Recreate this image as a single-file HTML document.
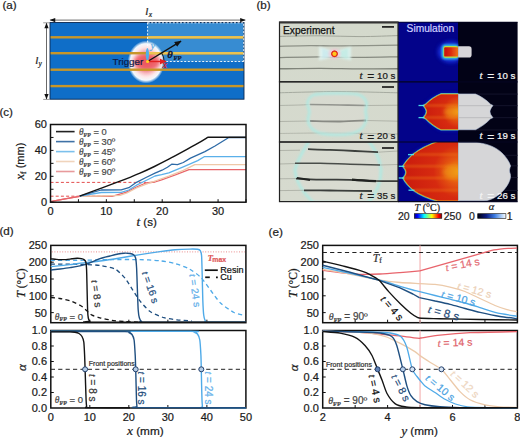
<!DOCTYPE html>
<html><head><meta charset="utf-8"><title>Figure</title>
<style>html,body{margin:0;padding:0;background:#fff;width:520px;height:438px;overflow:hidden}
svg{display:block}</style></head>
<body>
<svg width="520" height="438" viewBox="0 0 520 438">
<defs>
<radialGradient id="glow" cx="0.5" cy="0.5" r="0.5">
<stop offset="0" stop-color="#f07880"/>
<stop offset="0.45" stop-color="#f6b0b8"/>
<stop offset="0.7" stop-color="#fde8ea"/>
<stop offset="0.85" stop-color="#ffffff" stop-opacity="0.95"/>
<stop offset="1" stop-color="#ffffff" stop-opacity="0"/>
</radialGradient>
<linearGradient id="jet" x1="0" x2="1" y1="0" y2="0">
<stop offset="0" stop-color="#00008f"/>
<stop offset="0.12" stop-color="#0000ff"/>
<stop offset="0.36" stop-color="#00ffff"/>
<stop offset="0.5" stop-color="#80ff80"/>
<stop offset="0.64" stop-color="#ffff00"/>
<stop offset="0.88" stop-color="#ff0000"/>
<stop offset="1" stop-color="#900000"/>
</linearGradient>
<linearGradient id="acm" x1="0" x2="1" y1="0" y2="0">
<stop offset="0" stop-color="#000010"/>
<stop offset="0.3" stop-color="#0a1a80"/>
<stop offset="0.6" stop-color="#3a7ae0"/>
<stop offset="0.85" stop-color="#b0d0f8"/>
<stop offset="1" stop-color="#ffffff"/>
</linearGradient>
<filter id="b05" filterUnits="userSpaceOnUse" x="0" y="0" width="520" height="438"><feGaussianBlur stdDeviation="0.5"/></filter>
<filter id="b1" filterUnits="userSpaceOnUse" x="0" y="0" width="520" height="438"><feGaussianBlur stdDeviation="1"/></filter>
<filter id="b2" filterUnits="userSpaceOnUse" x="0" y="0" width="520" height="438"><feGaussianBlur stdDeviation="2"/></filter>
<marker id="ahk" viewBox="0 0 10 10" refX="9" refY="5" markerWidth="5" markerHeight="5" orient="auto-start-reverse"><path d="M0,1 L10,5 L0,9 z" fill="#111"/></marker>
<marker id="ahd" viewBox="0 0 10 10" refX="9" refY="5" markerWidth="8" markerHeight="7" orient="auto-start-reverse"><path d="M0,1.2 L10,5 L0,8.8 z" fill="#111"/></marker>
<marker id="ahr" viewBox="0 0 10 10" refX="9" refY="5" markerWidth="5" markerHeight="5" orient="auto"><path d="M0,1 L10,5 L0,9 z" fill="#e02020"/></marker>
</defs>
<rect width="520" height="438" fill="#fff"/>
<text x="2.4" y="8.9" font-size="11.6" text-anchor="start" fill="#222" font-family='"Liberation Sans", sans-serif'  stroke="#222" stroke-width="0.22">(a)</text>
<rect x="50.0" y="22.5" width="194.0" height="76.7" fill="#0f6ec8"/>
<rect x="147.6" y="22.5" width="96.4" height="39.0" fill="#378cd2"/>
<ellipse cx="146.1" cy="62.0" rx="18.5" ry="21.5" fill="url(#glow)"/>
<ellipse cx="147.1" cy="62.0" rx="13.5" ry="8.5" fill="#ec5058" opacity="0.8" filter="url(#b2)"/>
<rect x="50.0" y="36.099999999999994" width="194.0" height="2.4" fill="#c89628"/>
<rect x="147.6" y="36.099999999999994" width="96.4" height="2.4" fill="#ebc350"/>
<rect x="50.0" y="52.0" width="194.0" height="2.4" fill="#c89628"/>
<rect x="147.6" y="52.0" width="96.4" height="2.4" fill="#ebc350"/>
<rect x="50.0" y="68.5" width="194.0" height="2.4" fill="#c89628"/>
<rect x="50.0" y="84.89999999999999" width="194.0" height="2.4" fill="#c89628"/>
<rect x="50.0" y="22.5" width="194.0" height="76.7" fill="none" stroke="#0a2850" stroke-width="0.9"/>
<path d="M147.6,22.5 V61.5 H244.0" fill="none" stroke="#fff" stroke-width="0.9" stroke-dasharray="2,1.6"/>
<path d="M147.6,22.8 H243.7 V61.5" fill="none" stroke="#fff" stroke-width="0.9" stroke-dasharray="2,1.6"/>
<text x="112.6" y="65" font-size="9.8" text-anchor="start" fill="#0b1a48" font-family='"Liberation Sans", sans-serif'  stroke="#0b1a48" stroke-width="0.22">Trigger</text>
<ellipse cx="147.4" cy="54.3" rx="1.6" ry="6.2" fill="#4eb0ea"/>
<text x="150.6" y="48.6" font-size="10.5" text-anchor="start" fill="#5aa8e0" font-family='"Liberation Serif", serif' font-style="italic"  stroke="#5aa8e0" stroke-width="0.22">y</text>
<path d="M164.1,61.5 A16.5,16.5 0 0 0 161.59,52.76" fill="none" stroke="#111" stroke-width="0.9"/>
<line x1="147.6" y1="61.5" x2="181" y2="41.2" stroke="#111" stroke-width="1.4" marker-end="url(#ahk)"/>
<line x1="147.6" y1="61.5" x2="166" y2="61.5" stroke="#e02020" stroke-width="1.4" marker-end="url(#ahr)"/>
<text x="162.6" y="67.6" font-size="10.5" text-anchor="start" fill="#e02020" font-family='"Liberation Serif", serif' font-style="italic"  stroke="#e02020" stroke-width="0.22">x</text>
<circle cx="147.6" cy="61.5" r="1.6" fill="#ffd21e"/>
<text x="167.3" y="58.2" font-size="10.5" text-anchor="start" fill="#0c1838" font-family='"Liberation Serif", serif' font-style="italic" font-weight="bold" stroke="#0c1838" stroke-width="0.3">&#952;</text>
<text x="173.4" y="60" font-size="6.8" text-anchor="start" fill="#0c1838" font-family='"Liberation Serif", serif' font-weight="bold" stroke="#0c1838" stroke-width="0.2">FP</text>
<line x1="50.2" y1="20.1" x2="245.2" y2="20.1" stroke="#444" stroke-width="0.8" marker-start="url(#ahd)" marker-end="url(#ahd)"/>
<text x="145.2" y="14.6" font-size="11" text-anchor="start" fill="#222" font-family='"Liberation Serif", serif' font-style="italic"  stroke="#222" stroke-width="0.22">l</text>
<text x="148.8" y="17.2" font-size="7.5" text-anchor="start" fill="#222" font-family='"Liberation Serif", serif' font-style="italic"  stroke="#222" stroke-width="0.22">x</text>
<line x1="46.5" y1="23.2" x2="46.5" y2="99" stroke="#444" stroke-width="0.8" marker-start="url(#ahd)" marker-end="url(#ahd)"/>
<line x1="43.2" y1="22.8" x2="49.5" y2="22.8" stroke="#555" stroke-width="0.6"/>
<line x1="43.2" y1="99.4" x2="49.5" y2="99.4" stroke="#555" stroke-width="0.6"/>
<text x="35.2" y="63.6" font-size="11" text-anchor="start" fill="#222" font-family='"Liberation Serif", serif' font-style="italic"  stroke="#222" stroke-width="0.22">l</text>
<text x="38.6" y="66.2" font-size="7.5" text-anchor="start" fill="#222" font-family='"Liberation Serif", serif' font-style="italic"  stroke="#222" stroke-width="0.22">y</text>
<text x="256.4" y="8.6" font-size="11.6" text-anchor="start" fill="#222" font-family='"Liberation Sans", sans-serif'  stroke="#222" stroke-width="0.22">(b)</text>
<defs>
<linearGradient id="pbg" x1="0" x2="0" y1="0" y2="1">
<stop offset="0" stop-color="#d4d9cc"/><stop offset="1" stop-color="#d6dacf"/></linearGradient>
<radialGradient id="hot1" cx="0.5" cy="0.5" r="0.5">
<stop offset="0" stop-color="#ffd21e"/><stop offset="0.5" stop-color="#ff9a10"/>
<stop offset="0.75" stop-color="#e02018"/><stop offset="1" stop-color="#e02018" stop-opacity="0"/></radialGradient>
<radialGradient id="tcore" cx="1" cy="0.5" r="0.9">
<stop offset="0" stop-color="#f09a18"/><stop offset="0.22" stop-color="#e65a12"/>
<stop offset="0.5" stop-color="#d62a10"/><stop offset="1" stop-color="#cc1e0e"/></radialGradient>
<clipPath id="rowclip0"><rect x="279.5" y="22.0" width="238.10000000000002" height="59.8"/></clipPath>
<clipPath id="tclip0"><rect x="398.0" y="22.0" width="60.5" height="59.8"/></clipPath>
<clipPath id="rowclip1"><rect x="279.5" y="81.8" width="238.10000000000002" height="60.2"/></clipPath>
<clipPath id="tclip1"><rect x="398.0" y="81.8" width="60.5" height="60.2"/></clipPath>
<clipPath id="rowclip2"><rect x="279.5" y="142.0" width="238.10000000000002" height="59.599999999999994"/></clipPath>
<clipPath id="tclip2"><rect x="398.0" y="142.0" width="60.5" height="59.599999999999994"/></clipPath>
</defs>
<rect x="279.5" y="22.0" width="118.5" height="179.6" fill="url(#pbg)"/>
<rect x="398.0" y="22.0" width="60.0" height="179.6" fill="#03038a"/>
<rect x="458.0" y="22.0" width="59.60000000000002" height="179.6" fill="#020216"/>
<g clip-path="url(#rowclip0)">
<g filter="url(#b05)">
<path d="M279,36.4 C285.83,36.3 306.5,35.77 320,35.8 C333.5,35.83 347,36.63 360,36.6 C373,36.57 391.67,35.77 398,35.6" fill="none" stroke="#9a9e94" stroke-width="1.0" opacity="0.9"/>
<path d="M279,46.4 C284.17,46.27 299.83,45.68 310,45.6 C320.17,45.52 325.33,45.97 340,45.9 C354.67,45.83 388.33,45.32 398,45.2" fill="none" stroke="#8e9288" stroke-width="1.3" opacity="1.0"/>
<path d="M279,57.6 C285.83,57.48 306.5,56.93 320,56.9 C333.5,56.87 347,57.42 360,57.4 C373,57.38 391.67,56.9 398,56.8" fill="none" stroke="#868a80" stroke-width="1.3" opacity="1.0"/>
<path d="M279,68.8 C285.83,68.73 306.5,68.38 320,68.4 C333.5,68.42 347,68.85 360,68.9 C373,68.95 391.67,68.73 398,68.7" fill="none" stroke="#80847a" stroke-width="1.4" opacity="1.0"/>
<path d="M319,46.5 L333,51 L333,57 L319,60.5 Z" fill="#e4f6f2" opacity="0.85" filter="url(#b1)"/>
<path d="M351,46.5 L337,51 L337,57 L351,60.5 Z" fill="#dcf4f0" opacity="0.85" filter="url(#b1)"/>
<path d="M322,48 L330,51.5 L330,56.5 L322,59 Z" fill="#bce6f0" opacity="0.55" filter="url(#b1)"/>
<path d="M348,48 L340,51.5 L340,56.5 L348,59 Z" fill="#b4eae2" opacity="0.55" filter="url(#b1)"/>
<ellipse cx="334.5" cy="53.8" rx="6" ry="5" fill="#f4c4d4" opacity="0.8" filter="url(#b1)"/>
</g>
<circle cx="334.5" cy="53.8" r="3.6" fill="url(#hot1)"/>
<circle cx="334.5" cy="53.8" r="2.9" fill="none" stroke="#e0301c" stroke-width="1"/>
<circle cx="334.5" cy="53.8" r="1.9" fill="#ffc81e"/>
</g>
<g clip-path="url(#rowclip1)"><g filter="url(#b05)">
<path d="M279,92.8 C284.17,92.67 299.83,92.22 310,92 C320.17,91.78 325.33,91.37 340,91.5 C354.67,91.63 388.33,92.58 398,92.8" fill="none" stroke="#9a9e94" stroke-width="0.9" opacity="0.9"/>
<path d="M279,105.5 C282.5,105.42 294.83,105.17 300,105 C305.17,104.83 308.33,104.58 310,104.5" fill="none" stroke="#9a9e94" stroke-width="0.8" opacity="0.8"/>
<path d="M310,104.5 C315,104.58 330.67,104.83 340,105 C349.33,105.17 361.67,105.42 366,105.5" fill="none" stroke="#484c48" stroke-width="1.6" opacity="1.0"/>
<path d="M366,105.5 L398,105.2" fill="none" stroke="#9a9e94" stroke-width="0.8" opacity="0.8"/>
<path d="M279,121.5 L310,121" fill="none" stroke="#9a9e94" stroke-width="0.8" opacity="0.8"/>
<path d="M310,121 C315,121.08 330.67,121.58 340,121.5 C349.33,121.42 361.67,120.67 366,120.5" fill="none" stroke="#343834" stroke-width="1.8" opacity="1.0"/>
<path d="M366,120.5 L398,121.2" fill="none" stroke="#9a9e94" stroke-width="0.8" opacity="0.8"/>
<path d="M279,133.5 C287.5,133.42 310.17,132.92 330,133 C349.83,133.08 386.67,133.83 398,134" fill="none" stroke="#9a9e94" stroke-width="0.8" opacity="0.7"/>
<path d="M315,94.5 C326,93 348,93 358,94.5 C364,96 367,101 366.5,105 L365.5,111 L366.5,118 C366,124 362,131 352,133.5 C344,135 330,135 321,133.5 C312,131 308,125 308,119 L309.5,112 L307.5,104 C307.5,99 310,96 315,94.5 Z" fill="#dcdcd4" fill-opacity="0.5" stroke="#a8ece6" stroke-width="2.8" stroke-opacity="0.75" filter="url(#b1)"/>
</g></g>
<g clip-path="url(#rowclip2)"><g filter="url(#b05)">
<path d="M311,138 C305,148 298,158 295,170 C296,182 302,192 314,203 L368,203 C376,194 381,182 381,170 C380,158 375,148 366,138 Z" fill="#dcdcd4" fill-opacity="0.45" stroke="#a8ece6" stroke-width="3" stroke-opacity="0.75" filter="url(#b1)"/>
<path d="M279,150.5 L300,150.2" fill="none" stroke="#9a9e94" stroke-width="0.8" opacity="0.8"/>
<path d="M308,149.2 C311.67,149.3 322.17,149.5 330,149.8 C337.83,150.1 347,150.6 355,151 C363,151.4 374.17,152 378,152.2" fill="none" stroke="#3c403c" stroke-width="1.8" opacity="1.0"/>
<path d="M378,152.2 L398,151" fill="none" stroke="#9a9e94" stroke-width="0.8" opacity="0.8"/>
<path d="M279,164 L296,163.5" fill="none" stroke="#9a9e94" stroke-width="0.8" opacity="0.8"/>
<path d="M295,163.2 C299.17,163.22 310.83,163.13 320,163.3 C329.17,163.47 340,163.92 350,164.2 C360,164.48 375,164.87 380,165" fill="none" stroke="#4a4e4a" stroke-width="1.6" opacity="1.0"/>
<path d="M380,165 L398,164.5" fill="none" stroke="#9a9e94" stroke-width="0.8" opacity="0.8"/>
<path d="M279,178.8 L296,178.6" fill="none" stroke="#9a9e94" stroke-width="0.8" opacity="0.8"/>
<path d="M296,178.6 C298.33,178.72 304.33,179.13 310,179.3 C315.67,179.47 323.33,179.52 330,179.6 C336.67,179.68 342.5,179.57 350,179.8 C357.5,180.03 367,180.77 375,181 C383,181.23 394.17,181.17 398,181.2" fill="none" stroke="#3a3e3a" stroke-width="1.7" opacity="1.0"/>
<path d="M297,178 Q304,179 310,180" stroke="#202420" stroke-width="2" fill="none"/>
<path d="M352,179.6 Q362,180.5 376,181.2" stroke="#202420" stroke-width="2.2" fill="none"/>
<path d="M279,190.6 L304,190.3" fill="none" stroke="#9a9e94" stroke-width="0.8" opacity="0.8"/>
<path d="M304,190.3 C308.33,190.33 321.5,190.42 330,190.5 C338.5,190.58 348,190.72 355,190.8 C362,190.88 369.17,190.97 372,191" fill="none" stroke="#3a3e3a" stroke-width="1.8" opacity="1.0"/>
</g></g>
<line x1="382" y1="26.9" x2="394" y2="26.9" stroke="#111" stroke-width="1.6"/>
<line x1="382" y1="87.0" x2="394" y2="87.0" stroke="#111" stroke-width="1.6"/>
<line x1="382" y1="148.0" x2="394" y2="148.0" stroke="#111" stroke-width="1.6"/>
<line x1="458.0" y1="94.1" x2="517.6" y2="94.1" stroke="#16162e" stroke-width="0.9"/>
<line x1="458.0" y1="105.7" x2="517.6" y2="105.7" stroke="#16162e" stroke-width="0.9"/>
<line x1="458.0" y1="117.7" x2="517.6" y2="117.7" stroke="#16162e" stroke-width="0.9"/>
<line x1="458.0" y1="130.0" x2="517.6" y2="130.0" stroke="#16162e" stroke-width="0.9"/>
<line x1="458.0" y1="155.3" x2="517.6" y2="155.3" stroke="#16162e" stroke-width="0.9"/>
<line x1="458.0" y1="165.8" x2="517.6" y2="165.8" stroke="#16162e" stroke-width="0.9"/>
<line x1="458.0" y1="177.5" x2="517.6" y2="177.5" stroke="#16162e" stroke-width="0.9"/>
<line x1="458.0" y1="190.4" x2="517.6" y2="190.4" stroke="#16162e" stroke-width="0.9"/>
<defs><linearGradient id="r1g" x1="0" x2="1" y1="0" y2="0"><stop offset="0" stop-color="#c80e0e"/><stop offset="0.45" stop-color="#dc2a10"/><stop offset="0.8" stop-color="#e85a14"/><stop offset="1" stop-color="#ec7a1c"/></linearGradient></defs>
<g clip-path="url(#tclip0)">
<ellipse cx="451" cy="52" rx="13" ry="10.5" fill="#1c3af0" opacity="0.85" filter="url(#b2)"/>
<rect x="441.8" y="44.6" width="17" height="14.6" rx="3.5" fill="#34c8e4" filter="url(#b1)"/>
<rect x="443.4" y="46.0" width="15" height="11.8" rx="2" fill="#b8e040" filter="url(#b05)"/>
<rect x="444.2" y="47.2" width="14.2" height="9.4" rx="1.2" fill="url(#r1g)" filter="url(#b05)"/>
</g>
<path d="M458.2,46.3 H469 Q471.6,46.3 471.6,49 V54.8 Q471.6,57.6 469,57.6 H458.2 Z" fill="#d8d6da"/>
<g clip-path="url(#tclip1)">
<path d="M458.5,94 L441,94 C436,96 430,100 426,104.2 L423.4,105.5 C425.6,108 426.6,110 426.6,111.6 C426.6,113.4 425.6,115.6 423.4,117.6 L426,118.8 C430,123 436,127.5 441,129.7 L458.5,129.7 Z" fill="#1830e8" opacity="0.7" filter="url(#b2)"/>
<path d="M458.5,94 L441,94 C436,96 430,100 426,104.2 L423.4,105.5 C425.6,108 426.6,110 426.6,111.6 C426.6,113.4 425.6,115.6 423.4,117.6 L426,118.8 C430,123 436,127.5 441,129.7 L458.5,129.7 Z" fill="none" stroke="#38d8e8" stroke-width="1.8" opacity="0.75" filter="url(#b05)"/>
<path d="M458.5,94 L441,94 C436,96 430,100 426,104.2 L423.4,105.5 C425.6,108 426.6,110 426.6,111.6 C426.6,113.4 425.6,115.6 423.4,117.6 L426,118.8 C430,123 436,127.5 441,129.7 L458.5,129.7 Z" fill="url(#tcore)" stroke="#e0d028" stroke-width="0.7"/>
<line x1="424" y1="105.6" x2="458" y2="105.6" stroke="#f07818" stroke-width="2" opacity="0.55" filter="url(#b1)"/>
<line x1="424" y1="117.6" x2="458" y2="117.6" stroke="#f07818" stroke-width="2" opacity="0.55" filter="url(#b1)"/>
<ellipse cx="452" cy="112" rx="8" ry="5.5" fill="#f0a018" opacity="0.6" filter="url(#b2)"/>
</g>
<line x1="418.5" y1="105.5" x2="424.5" y2="105.5" stroke="#50f0f0" stroke-width="1.3" opacity="0.9" filter="url(#b05)"/>
<line x1="418.5" y1="117.6" x2="424.5" y2="117.6" stroke="#50f0f0" stroke-width="1.3" opacity="0.9" filter="url(#b05)"/>
<path d="M458.5,94 L475.5,94 C480.5,96 486.5,100 490.5,104.2 L493,105.5 C491,108 490,110 490,111.6 C490,113.4 491,115.6 493,117.6 L490.5,118.8 C486.5,123 480.5,127.5 475.5,129.7 L458.5,129.7 Z" fill="#d6d6d8" stroke="#b8c8e0" stroke-width="0.6"/>
<line x1="458.5" y1="105.7" x2="491" y2="105.7" stroke="#b4b4b8" stroke-width="0.8"/>
<line x1="458.5" y1="117.7" x2="491" y2="117.7" stroke="#b4b4b8" stroke-width="0.8"/>
<g clip-path="url(#tclip2)">
<path d="M458.5,141.5 L438,141.5 C430,144.2 420,149 412.8,154.6 C409,158 405.5,162 403,166.3 C405.4,169 406,171 406,172.2 C406,174 405.4,176 403,178 C405.5,182.5 409,186.5 413.5,190.2 C420,195 430,199 438,201 L458.5,201 Z" fill="#1830e8" opacity="0.7" filter="url(#b2)"/>
<path d="M458.5,141.5 L438,141.5 C430,144.2 420,149 412.8,154.6 C409,158 405.5,162 403,166.3 C405.4,169 406,171 406,172.2 C406,174 405.4,176 403,178 C405.5,182.5 409,186.5 413.5,190.2 C420,195 430,199 438,201 L458.5,201 Z" fill="none" stroke="#38d8e8" stroke-width="1.8" opacity="0.75" filter="url(#b05)"/>
<path d="M458.5,141.5 L438,141.5 C430,144.2 420,149 412.8,154.6 C409,158 405.5,162 403,166.3 C405.4,169 406,171 406,172.2 C406,174 405.4,176 403,178 C405.5,182.5 409,186.5 413.5,190.2 C420,195 430,199 438,201 L458.5,201 Z" fill="url(#tcore)" stroke="#e0d028" stroke-width="0.7"/>
<line x1="413" y1="154.6" x2="458" y2="154.6" stroke="#f07818" stroke-width="2" opacity="0.55" filter="url(#b1)"/>
<line x1="404" y1="166.3" x2="458" y2="166.3" stroke="#f07818" stroke-width="2" opacity="0.55" filter="url(#b1)"/>
<line x1="404" y1="178" x2="458" y2="178" stroke="#f07818" stroke-width="2" opacity="0.55" filter="url(#b1)"/>
<line x1="414" y1="190.2" x2="458" y2="190.2" stroke="#f07818" stroke-width="2" opacity="0.55" filter="url(#b1)"/>
<ellipse cx="452" cy="172" rx="9" ry="7" fill="#f0a018" opacity="0.6" filter="url(#b2)"/>
</g>
<line x1="408" y1="154.6" x2="414" y2="154.6" stroke="#50f0f0" stroke-width="1.3" opacity="0.9" filter="url(#b05)"/>
<line x1="398.5" y1="166.3" x2="404.5" y2="166.3" stroke="#50f0f0" stroke-width="1.3" opacity="0.9" filter="url(#b05)"/>
<line x1="398.5" y1="178" x2="404.5" y2="178" stroke="#50f0f0" stroke-width="1.3" opacity="0.9" filter="url(#b05)"/>
<line x1="408.5" y1="190.2" x2="414.5" y2="190.2" stroke="#50f0f0" stroke-width="1.3" opacity="0.9" filter="url(#b05)"/>
<path d="M458.5,142.4 L476,142.4 C488,143.5 497,148 502,153 C506,157 509,161 510.6,166 C509.6,168.5 509.3,170 509.6,172 C510.6,174.5 510.9,176.5 510.1,179 C508.6,185 503,192 497,196 C493,199 488,200.8 484,200.8 L458.5,200.8 Z" fill="#d6d6d8" stroke="#b8c8e0" stroke-width="0.6"/>
<rect x="279.5" y="22.0" width="118.5" height="59.8" fill="none" stroke="#222" stroke-width="1.2"/>
<line x1="398.0" y1="81.8" x2="517.6" y2="81.8" stroke="#050520" stroke-width="1.2"/>
<rect x="279.5" y="81.8" width="118.5" height="60.2" fill="none" stroke="#222" stroke-width="1.2"/>
<line x1="398.0" y1="142.0" x2="517.6" y2="142.0" stroke="#050520" stroke-width="1.2"/>
<rect x="279.5" y="142.0" width="118.5" height="59.599999999999994" fill="none" stroke="#222" stroke-width="1.2"/>
<line x1="398.0" y1="201.6" x2="517.6" y2="201.6" stroke="#050520" stroke-width="1.2"/>
<line x1="279.5" y1="22.6" x2="398.0" y2="22.6" stroke="#333" stroke-width="1.6"/>
<line x1="398.0" y1="22.2" x2="517.6" y2="22.2" stroke="#050520" stroke-width="0.8"/>
<text x="283" y="33.6" font-size="10.2" text-anchor="start" fill="#111" font-family='"Liberation Sans", sans-serif' stroke="#111" stroke-width="0.25">Experiment</text>
<text x="406.6" y="32.4" font-size="10.2" text-anchor="start" fill="#d0d0ff" font-family='"Liberation Sans", sans-serif' stroke="#d0d0ff" stroke-width="0.2">Simulation</text>
<text x="395.4" y="78.5" font-size="9.7" text-anchor="end" fill="#1a1a1a" font-family='"Liberation Sans", sans-serif' stroke="#1a1a1a" stroke-width="0.22"><tspan font-family='"Liberation Serif", serif' font-style="italic" font-size="11.2">t</tspan>&#8194;<tspan font-size="12" dy="1.6">=</tspan><tspan dy="-1.6"> 10 s</tspan></text>
<text x="395.4" y="139.3" font-size="9.7" text-anchor="end" fill="#1a1a1a" font-family='"Liberation Sans", sans-serif' stroke="#1a1a1a" stroke-width="0.22"><tspan font-family='"Liberation Serif", serif' font-style="italic" font-size="11.2">t</tspan>&#8194;<tspan font-size="12" dy="1.6">=</tspan><tspan dy="-1.6"> 20 s</tspan></text>
<text x="395.4" y="198.8" font-size="9.7" text-anchor="end" fill="#1a1a1a" font-family='"Liberation Sans", sans-serif' stroke="#1a1a1a" stroke-width="0.22"><tspan font-family='"Liberation Serif", serif' font-style="italic" font-size="11.2">t</tspan>&#8194;<tspan font-size="12" dy="1.6">=</tspan><tspan dy="-1.6"> 35 s</tspan></text>
<text x="515.4" y="78.5" font-size="9.7" text-anchor="end" fill="#f4f4f4" font-family='"Liberation Sans", sans-serif' stroke="#f4f4f4" stroke-width="0.22"><tspan font-family='"Liberation Serif", serif' font-style="italic" font-size="11.2">t</tspan>&#8194;<tspan font-size="12" dy="1.6">=</tspan><tspan dy="-1.6"> 10 s</tspan></text>
<text x="515.4" y="139" font-size="9.7" text-anchor="end" fill="#f4f4f4" font-family='"Liberation Sans", sans-serif' stroke="#f4f4f4" stroke-width="0.22"><tspan font-family='"Liberation Serif", serif' font-style="italic" font-size="11.2">t</tspan>&#8194;<tspan font-size="12" dy="1.6">=</tspan><tspan dy="-1.6"> 19 s</tspan></text>
<text x="515.4" y="198.8" font-size="9.7" text-anchor="end" fill="#f4f4f4" font-family='"Liberation Sans", sans-serif' stroke="#f4f4f4" stroke-width="0.22"><tspan font-family='"Liberation Serif", serif' font-style="italic" font-size="11.2">t</tspan>&#8194;<tspan font-size="12" dy="1.6">=</tspan><tspan dy="-1.6"> 26 s</tspan></text>
<text x="427.3" y="210.8" font-size="10" text-anchor="middle" fill="#222" font-family='"Liberation Serif", serif' stroke="#222" stroke-width="0.22"><tspan font-style="italic">T</tspan> (&#176;C)</text>
<text x="403.8" y="219.8" font-size="10.5" text-anchor="middle" fill="#222" font-family='"Liberation Sans", sans-serif'  stroke="#222" stroke-width="0.22">20</text>
<rect x="414.3" y="213.7" width="27.5" height="4.6" fill="url(#jet)" stroke="#111" stroke-width="0.6"/>
<text x="452.5" y="219.8" font-size="10.5" text-anchor="middle" fill="#222" font-family='"Liberation Sans", sans-serif'  stroke="#222" stroke-width="0.22">250</text>
<text x="471.9" y="219.8" font-size="10.5" text-anchor="middle" fill="#222" font-family='"Liberation Sans", sans-serif'  stroke="#222" stroke-width="0.22">0</text>
<rect x="477.7" y="213.7" width="28.2" height="4.6" fill="url(#acm)" stroke="#111" stroke-width="0.6"/>
<text x="509.6" y="219.8" font-size="10.5" text-anchor="middle" fill="#222" font-family='"Liberation Sans", sans-serif'  stroke="#222" stroke-width="0.22">1</text>
<text x="491.4" y="210.4" font-size="10.5" text-anchor="middle" fill="#222" font-family='"Liberation Serif", serif' font-style="italic"  stroke="#222" stroke-width="0.22">&#945;</text>
<text x="-0.6" y="115.9" font-size="11.6" text-anchor="start" fill="#222" font-family='"Liberation Sans", sans-serif'  stroke="#222" stroke-width="0.22">(c)</text>
<line x1="50.5" y1="182.4" x2="146" y2="182.4" stroke="#e03a3a" stroke-width="0.9" stroke-dasharray="3,2.2"/>
<line x1="50.5" y1="196.2" x2="113" y2="196.2" stroke="#e03a3a" stroke-width="0.9" stroke-dasharray="3,2.2"/>
<path d="M50.5,201.6 L65,198.8 L79.6,196.3 L95,196.4 L112,196.4 L125.8,192.3 L136.5,187 L145.8,183 L155,182 L161.6,179.8 L176,174.7 L189,169.7 L246,169.7" fill="none" stroke="#e8656a" stroke-width="1.3" stroke-linejoin="round"/>
<path d="M79.6,196.3 L100,196 L120,195.3 L127,193 L136.5,188 L145,184.6 L155,181 L168.8,176.2 L183.3,170.4 L194.8,164.6 L246,164.6" fill="none" stroke="#efc8a8" stroke-width="1.3" stroke-linejoin="round"/>
<path d="M79.6,196.2 L101.2,192.5 L121.2,192.4 L128.8,190 L136.5,185.2 L146,180.5 L155,176 L161.6,174.7 L168.8,172.8 L183.3,166.8 L197.7,160.6 L204.2,156.7 L246,156.7" fill="none" stroke="#5ab0ea" stroke-width="1.3" stroke-linejoin="round"/>
<path d="M79.6,196.2 L101.2,190 L121.2,189.9 L128.8,187.7 L136.5,182.3 L146,177.5 L155,173.2 L162,170.2 L167.4,167.2 L171.7,164.2 L177.5,164.6 L183.3,162.5 L190.5,158.1 L204.9,151.6 L215,146 L228.8,137.5 L246,137.5" fill="none" stroke="#2d6aa6" stroke-width="1.3" stroke-linejoin="round"/>
<path d="M79.6,196.2 C83,194.93 93.6,190.98 100,188.6 C106.4,186.22 113,183.78 118,181.9 C123,180.02 126.33,178.75 130,177.3 C133.67,175.85 135.93,175 140,173.2 C144.07,171.4 149.6,168.83 154.4,166.5 C159.2,164.17 163.98,161.72 168.8,159.2 C173.62,156.68 178.48,154.03 183.3,151.4 C188.12,148.77 193.62,145.75 197.7,143.4 C201.78,141.05 206.12,138.32 207.8,137.3 L246,137.3" fill="none" stroke="#141414" stroke-width="1.4" stroke-linejoin="round"/>
<path d="M50.5,201.6 L65,198.8 L79.6,196.3" fill="none" stroke="#e8656a" stroke-width="1.3" stroke-linejoin="round"/>
<line x1="56" y1="131.6" x2="74.6" y2="131.6" stroke="#222" stroke-width="1.6"/>
<text x="79" y="134.9" font-size="9.3" fill="#4a4a4a" font-family='"Liberation Sans", sans-serif' stroke="#4a4a4a" stroke-width="0.22"><tspan font-family='"Liberation Serif", serif' font-style="italic">&#952;</tspan><tspan font-family='"Liberation Serif", serif' font-size="6" font-weight="bold" dy="1.8">FP</tspan><tspan dy="-1.8"> = 0</tspan></text>
<line x1="56" y1="141.6" x2="74.6" y2="141.6" stroke="#3f72a6" stroke-width="1.6"/>
<text x="79" y="144.9" font-size="9.3" fill="#4a4a4a" font-family='"Liberation Sans", sans-serif' stroke="#4a4a4a" stroke-width="0.22"><tspan font-family='"Liberation Serif", serif' font-style="italic">&#952;</tspan><tspan font-family='"Liberation Serif", serif' font-size="6" font-weight="bold" dy="1.8">FP</tspan><tspan dy="-1.8"> = 30&#186;</tspan></text>
<line x1="56" y1="151.6" x2="74.6" y2="151.6" stroke="#7cc0ec" stroke-width="1.6"/>
<text x="79" y="154.9" font-size="9.3" fill="#4a4a4a" font-family='"Liberation Sans", sans-serif' stroke="#4a4a4a" stroke-width="0.22"><tspan font-family='"Liberation Serif", serif' font-style="italic">&#952;</tspan><tspan font-family='"Liberation Serif", serif' font-size="6" font-weight="bold" dy="1.8">FP</tspan><tspan dy="-1.8"> = 45&#186;</tspan></text>
<line x1="56" y1="161.5" x2="74.6" y2="161.5" stroke="#f0d4bc" stroke-width="1.6"/>
<text x="79" y="164.8" font-size="9.3" fill="#4a4a4a" font-family='"Liberation Sans", sans-serif' stroke="#4a4a4a" stroke-width="0.22"><tspan font-family='"Liberation Serif", serif' font-style="italic">&#952;</tspan><tspan font-family='"Liberation Serif", serif' font-size="6" font-weight="bold" dy="1.8">FP</tspan><tspan dy="-1.8"> = 60&#186;</tspan></text>
<line x1="56" y1="171.5" x2="74.6" y2="171.5" stroke="#e89a9c" stroke-width="1.6"/>
<text x="79" y="174.8" font-size="9.3" fill="#4a4a4a" font-family='"Liberation Sans", sans-serif' stroke="#4a4a4a" stroke-width="0.22"><tspan font-family='"Liberation Serif", serif' font-style="italic">&#952;</tspan><tspan font-family='"Liberation Serif", serif' font-size="6" font-weight="bold" dy="1.8">FP</tspan><tspan dy="-1.8"> = 90&#186;</tspan></text>
<rect x="50.5" y="124.5" width="195.5" height="77.69999999999999" fill="none" stroke="#111" stroke-width="1.5"/>
<line x1="50.5" y1="202.2" x2="50.5" y2="199.2" stroke="#111" stroke-width="1"/>
<line x1="78.43" y1="202.2" x2="78.43" y2="199.2" stroke="#111" stroke-width="1"/>
<line x1="106.36" y1="202.2" x2="106.36" y2="199.2" stroke="#111" stroke-width="1"/>
<line x1="134.29" y1="202.2" x2="134.29" y2="199.2" stroke="#111" stroke-width="1"/>
<line x1="162.21" y1="202.2" x2="162.21" y2="199.2" stroke="#111" stroke-width="1"/>
<line x1="190.14" y1="202.2" x2="190.14" y2="199.2" stroke="#111" stroke-width="1"/>
<line x1="218.07" y1="202.2" x2="218.07" y2="199.2" stroke="#111" stroke-width="1"/>
<line x1="246" y1="202.2" x2="246" y2="199.2" stroke="#111" stroke-width="1"/>
<line x1="50.5" y1="202.2" x2="53.5" y2="202.2" stroke="#111" stroke-width="1"/>
<line x1="50.5" y1="189.25" x2="53.5" y2="189.25" stroke="#111" stroke-width="1"/>
<line x1="50.5" y1="176.3" x2="53.5" y2="176.3" stroke="#111" stroke-width="1"/>
<line x1="50.5" y1="163.35" x2="53.5" y2="163.35" stroke="#111" stroke-width="1"/>
<line x1="50.5" y1="150.4" x2="53.5" y2="150.4" stroke="#111" stroke-width="1"/>
<line x1="50.5" y1="137.45" x2="53.5" y2="137.45" stroke="#111" stroke-width="1"/>
<line x1="50.5" y1="124.5" x2="53.5" y2="124.5" stroke="#111" stroke-width="1"/>
<text x="47" y="206.1" font-size="11" text-anchor="end" fill="#1a1a1a" font-family='"Liberation Sans", sans-serif'  stroke="#1a1a1a" stroke-width="0.22">0</text>
<text x="47" y="180.2" font-size="11" text-anchor="end" fill="#1a1a1a" font-family='"Liberation Sans", sans-serif'  stroke="#1a1a1a" stroke-width="0.22">20</text>
<text x="47" y="154.3" font-size="11" text-anchor="end" fill="#1a1a1a" font-family='"Liberation Sans", sans-serif'  stroke="#1a1a1a" stroke-width="0.22">40</text>
<text x="47" y="128.4" font-size="11" text-anchor="end" fill="#1a1a1a" font-family='"Liberation Sans", sans-serif'  stroke="#1a1a1a" stroke-width="0.22">60</text>
<text x="50.5" y="215.2" font-size="11" text-anchor="middle" fill="#1a1a1a" font-family='"Liberation Sans", sans-serif'  stroke="#1a1a1a" stroke-width="0.22">0</text>
<text x="106.36" y="215.2" font-size="11" text-anchor="middle" fill="#1a1a1a" font-family='"Liberation Sans", sans-serif'  stroke="#1a1a1a" stroke-width="0.22">10</text>
<text x="162.21" y="215.2" font-size="11" text-anchor="middle" fill="#1a1a1a" font-family='"Liberation Sans", sans-serif'  stroke="#1a1a1a" stroke-width="0.22">20</text>
<text x="218.07" y="215.2" font-size="11" text-anchor="middle" fill="#1a1a1a" font-family='"Liberation Sans", sans-serif'  stroke="#1a1a1a" stroke-width="0.22">30</text>
<text x="146.6" y="226.0" font-size="11.6" text-anchor="middle" fill="#1a1a1a" font-family='"Liberation Sans", sans-serif' stroke="#1a1a1a" stroke-width="0.22"><tspan font-family='"Liberation Serif", serif' font-style="italic" font-size="13.2">t</tspan> (s)</text>
<text transform="translate(23.8,161.2) rotate(-90)" x="0" y="0" font-size="11" text-anchor="middle" fill="#1a1a1a" font-family='"Liberation Sans", sans-serif' stroke="#1a1a1a" stroke-width="0.22"><tspan font-family='"Liberation Serif", serif' font-style="italic" font-size="13">x</tspan><tspan font-family='"Liberation Serif", serif' font-size="7.5" dy="2.2">f</tspan><tspan dy="-2.2"> (mm)</tspan></text>
<text x="-0.6" y="235.3" font-size="11.6" text-anchor="start" fill="#222" font-family='"Liberation Sans", sans-serif'  stroke="#222" stroke-width="0.22">(d)</text>
<line x1="51.8" y1="251.9" x2="244.9" y2="251.9" stroke="#e88080" stroke-width="0.9" stroke-dasharray="1,1.6"/>
<rect x="50.8" y="245.4" width="195.1" height="77.3" fill="none" stroke="#111" stroke-width="1.5"/>
<rect x="50.8" y="330.5" width="195.1" height="77.5" fill="none" stroke="#111" stroke-width="1.5"/>
<line x1="89.82" y1="322.7" x2="89.82" y2="319.7" stroke="#111" stroke-width="1"/>
<line x1="89.82" y1="408" x2="89.82" y2="405" stroke="#111" stroke-width="1"/>
<line x1="128.84" y1="322.7" x2="128.84" y2="319.7" stroke="#111" stroke-width="1"/>
<line x1="128.84" y1="408" x2="128.84" y2="405" stroke="#111" stroke-width="1"/>
<line x1="167.86" y1="322.7" x2="167.86" y2="319.7" stroke="#111" stroke-width="1"/>
<line x1="167.86" y1="408" x2="167.86" y2="405" stroke="#111" stroke-width="1"/>
<line x1="206.88" y1="322.7" x2="206.88" y2="319.7" stroke="#111" stroke-width="1"/>
<line x1="206.88" y1="408" x2="206.88" y2="405" stroke="#111" stroke-width="1"/>
<line x1="50.8" y1="312.62" x2="53.8" y2="312.62" stroke="#111" stroke-width="1"/>
<line x1="50.8" y1="295.81" x2="53.8" y2="295.81" stroke="#111" stroke-width="1"/>
<line x1="50.8" y1="279.01" x2="53.8" y2="279.01" stroke="#111" stroke-width="1"/>
<line x1="50.8" y1="262.2" x2="53.8" y2="262.2" stroke="#111" stroke-width="1"/>
<line x1="50.8" y1="392.5" x2="53.8" y2="392.5" stroke="#111" stroke-width="1"/>
<line x1="50.8" y1="377" x2="53.8" y2="377" stroke="#111" stroke-width="1"/>
<line x1="50.8" y1="361.5" x2="53.8" y2="361.5" stroke="#111" stroke-width="1"/>
<line x1="50.8" y1="346" x2="53.8" y2="346" stroke="#111" stroke-width="1"/>
<text x="47" y="316.52" font-size="11" text-anchor="end" fill="#1a1a1a" font-family='"Liberation Sans", sans-serif'  stroke="#1a1a1a" stroke-width="0.22">50</text>
<text x="47" y="299.71" font-size="11" text-anchor="end" fill="#1a1a1a" font-family='"Liberation Sans", sans-serif'  stroke="#1a1a1a" stroke-width="0.22">100</text>
<text x="47" y="282.91" font-size="11" text-anchor="end" fill="#1a1a1a" font-family='"Liberation Sans", sans-serif'  stroke="#1a1a1a" stroke-width="0.22">150</text>
<text x="47" y="266.1" font-size="11" text-anchor="end" fill="#1a1a1a" font-family='"Liberation Sans", sans-serif'  stroke="#1a1a1a" stroke-width="0.22">200</text>
<text x="47" y="249.3" font-size="11" text-anchor="end" fill="#1a1a1a" font-family='"Liberation Sans", sans-serif'  stroke="#1a1a1a" stroke-width="0.22">250</text>
<text x="47" y="411.9" font-size="11" text-anchor="end" fill="#1a1a1a" font-family='"Liberation Sans", sans-serif'  stroke="#1a1a1a" stroke-width="0.22">0.0</text>
<text x="47" y="396.4" font-size="11" text-anchor="end" fill="#1a1a1a" font-family='"Liberation Sans", sans-serif'  stroke="#1a1a1a" stroke-width="0.22">0.2</text>
<text x="47" y="380.9" font-size="11" text-anchor="end" fill="#1a1a1a" font-family='"Liberation Sans", sans-serif'  stroke="#1a1a1a" stroke-width="0.22">0.4</text>
<text x="47" y="365.4" font-size="11" text-anchor="end" fill="#1a1a1a" font-family='"Liberation Sans", sans-serif'  stroke="#1a1a1a" stroke-width="0.22">0.6</text>
<text x="47" y="349.9" font-size="11" text-anchor="end" fill="#1a1a1a" font-family='"Liberation Sans", sans-serif'  stroke="#1a1a1a" stroke-width="0.22">0.8</text>
<text x="47" y="334.4" font-size="11" text-anchor="end" fill="#1a1a1a" font-family='"Liberation Sans", sans-serif'  stroke="#1a1a1a" stroke-width="0.22">1.0</text>
<text x="50.8" y="421.4" font-size="11" text-anchor="middle" fill="#1a1a1a" font-family='"Liberation Sans", sans-serif'  stroke="#1a1a1a" stroke-width="0.22">0</text>
<text x="89.82" y="421.4" font-size="11" text-anchor="middle" fill="#1a1a1a" font-family='"Liberation Sans", sans-serif'  stroke="#1a1a1a" stroke-width="0.22">10</text>
<text x="128.84" y="421.4" font-size="11" text-anchor="middle" fill="#1a1a1a" font-family='"Liberation Sans", sans-serif'  stroke="#1a1a1a" stroke-width="0.22">20</text>
<text x="167.86" y="421.4" font-size="11" text-anchor="middle" fill="#1a1a1a" font-family='"Liberation Sans", sans-serif'  stroke="#1a1a1a" stroke-width="0.22">30</text>
<text x="206.88" y="421.4" font-size="11" text-anchor="middle" fill="#1a1a1a" font-family='"Liberation Sans", sans-serif'  stroke="#1a1a1a" stroke-width="0.22">40</text>
<text x="245.9" y="421.4" font-size="11" text-anchor="middle" fill="#1a1a1a" font-family='"Liberation Sans", sans-serif'  stroke="#1a1a1a" stroke-width="0.22">50</text>
<path d="M50.8,297.5 C51.87,297.62 57.53,298.03 60,298.5 C62.47,298.97 69.43,300.57 72,301.5 C74.57,302.43 80.13,305.27 82,306.5 C83.87,307.73 86.83,310.99 88,312 C89.17,313.01 90.6,314.52 92,315.2 C93.4,315.88 97.67,317.2 100,317.8 C102.33,318.4 109.08,319.86 112,320.3 C114.92,320.74 121.73,321.38 125,321.6 C128.27,321.82 138.25,322.13 140,322.2" fill="none" stroke="#141414" stroke-width="1.3" stroke-dasharray="4.2,3.2" stroke-linejoin="round" />
<path d="M50.8,264.2 C53.04,264.2 66.01,264.18 70,264.2 C73.99,264.22 81.38,264.24 85,264.4 C88.62,264.56 97.44,265.04 101,265.6 C104.56,266.16 112.64,267.66 115.5,269.2 C118.36,270.74 123.46,276.31 125.5,278.8 C127.54,281.29 131.22,287.79 133,290.5 C134.78,293.21 138.76,299.51 140.8,302 C142.84,304.49 147.79,309.97 150.5,311.8 C153.21,313.63 160.91,316.77 164,317.7 C167.09,318.63 173.73,319.42 177,319.8 C180.27,320.19 190.25,320.86 192,321" fill="none" stroke="#1f4f80" stroke-width="1.3" stroke-dasharray="4.2,3.2" stroke-linejoin="round" />
<path d="M50.8,260.4 C54.79,260.38 78.09,260.29 85,260.2 C91.91,260.11 103.58,259.67 110,259.6 C116.42,259.53 134.17,259.46 140,259.6 C145.83,259.74 155.92,260.35 160,260.8 C164.08,261.25 171.57,262.54 175,263.5 C178.43,264.46 186.37,267.37 189.4,269 C192.43,270.63 198.5,274.99 201,277.5 C203.5,280.01 208.53,287.52 210.8,290.5 C213.08,293.48 217.79,300.43 220.5,303 C223.21,305.57 231.14,311.04 234,312.5 C236.86,313.96 243.72,315.15 245,315.5" fill="none" stroke="#4faae8" stroke-width="1.3" stroke-dasharray="4.2,3.2" stroke-linejoin="round" />
<path d="M50.8,266.6 C53.04,266.37 66.01,265.07 70,264.6 C73.99,264.13 81.5,263.02 85,262.6 C88.5,262.18 95.92,261.54 100,261 C104.08,260.46 115.33,258.75 120,258 C124.67,257.25 135.33,255.35 140,254.6 C144.67,253.85 155.92,252.16 160,251.6 C164.08,251.04 171.5,250.09 175,249.8 C178.5,249.51 187.38,249.16 190,249.1 C192.62,249.04 196.3,249.12 197.5,249.3 C198.7,249.48 199.82,249.82 200.3,250.6 C200.78,251.38 201.38,253.15 201.6,256 C201.82,258.85 202.06,269.87 202.2,275 C202.34,280.13 202.62,295.33 202.8,300 C202.98,304.67 203.42,312.6 203.7,315 C203.98,317.4 204.7,319.77 205.2,320.6 C205.7,321.43 203.24,321.9 208,322.1 C212.76,322.3 241.57,322.28 246,322.3" fill="none" stroke="#4faae8" stroke-width="1.4" stroke-linejoin="round" />
<path d="M50.8,270 C51.87,269.88 57.76,269.28 60,269 C62.24,268.72 67.08,268.11 70,267.6 C72.92,267.09 81.5,265.65 85,264.6 C88.5,263.55 97.08,259.6 100,258.6 C102.92,257.6 107.9,256.54 110,256 C112.1,255.46 116.37,254.33 118,254 C119.63,253.67 122.6,253.26 124,253.2 C125.4,253.14 128.88,253.31 130,253.5 C131.12,253.69 132.95,254.28 133.6,254.8 C134.25,255.33 135.25,256.46 135.6,258 C135.95,259.54 136.39,264.27 136.6,268 C136.81,271.73 137.21,285.1 137.4,290 C137.59,294.9 137.97,306.73 138.2,310 C138.43,313.27 139,316.66 139.4,318 C139.8,319.34 140.83,321.01 141.6,321.5 C142.37,321.99 133.82,322.11 146,322.2 C158.18,322.29 234.33,322.29 246,322.3" fill="none" stroke="#1f4f80" stroke-width="1.4" stroke-linejoin="round" />
<path d="M50.8,258.9 C51.29,258.94 53.93,259.12 55,259.2 C56.07,259.28 58.72,259.55 60,259.6 C61.28,259.65 64.6,259.69 66,259.6 C67.4,259.51 70.72,258.95 72,258.8 C73.28,258.65 75.89,258.32 77,258.3 C78.11,258.28 80.68,258.45 81.5,258.6 C82.32,258.75 83.5,259.2 84,259.6 C84.5,260 85.5,260.79 85.8,262 C86.1,263.21 86.45,266.73 86.6,270 C86.75,273.27 86.98,285.33 87.1,290 C87.22,294.67 87.46,306.73 87.6,310 C87.74,313.27 88.04,316.68 88.3,318 C88.56,319.32 89.32,320.81 89.8,321.3 C90.28,321.79 74.18,322.08 92.4,322.2 C110.62,322.32 228.08,322.29 246,322.3" fill="none" stroke="#141414" stroke-width="1.4" stroke-linejoin="round" />
<text transform="translate(96.6,293.6) rotate(82)" x="0" y="3.5" font-size="10" text-anchor="middle" fill="#333" font-family='"Liberation Sans", sans-serif' stroke="#333" stroke-width="0.22"><tspan font-family='"Liberation Serif", serif' font-style="italic">t</tspan> = 8 s</text>
<text transform="translate(150.4,287.2) rotate(71)" x="0" y="3.5" font-size="10" text-anchor="middle" fill="#244e7c" font-family='"Liberation Sans", sans-serif' stroke="#244e7c" stroke-width="0.22"><tspan font-family='"Liberation Serif", serif' font-style="italic">t</tspan> = 16 s</text>
<text transform="translate(195,290.5) rotate(82)" x="0" y="3.5" font-size="10" text-anchor="middle" fill="#64b0ea" font-family='"Liberation Sans", sans-serif' stroke="#64b0ea" stroke-width="0.22"><tspan font-family='"Liberation Serif", serif' font-style="italic">t</tspan> = 24 s</text>
<text x="54.8" y="319.6" font-size="9.5" fill="#444" font-family='"Liberation Sans", sans-serif' stroke="#444" stroke-width="0.22"><tspan font-family='"Liberation Serif", serif' font-style="italic">&#952;</tspan><tspan font-family='"Liberation Serif", serif' font-size="6.08" font-weight="bold" dy="1.8">FP</tspan><tspan dy="-1.8"> = 0</tspan></text>
<text x="207.6" y="260.8" font-size="9" fill="#e05a5a" font-family='"Liberation Serif", serif' font-style="italic" font-weight="bold" stroke="#e05a5a" stroke-width="0.22">T</text>
<text x="212.3" y="262.4" font-size="6.9" fill="#e05a5a" font-family='"Liberation Sans", sans-serif' font-weight="bold" stroke="#e05a5a" stroke-width="0.22">max</text>
<line x1="204.8" y1="270.2" x2="217.8" y2="270.2" stroke="#111" stroke-width="1.7"/>
<text x="220.3" y="272.8" font-size="9.1" text-anchor="start" fill="#111" font-family='"Liberation Sans", sans-serif'  stroke="#111" stroke-width="0.22">Resin</text>
<line x1="205.2" y1="277.3" x2="209.8" y2="277.3" stroke="#111" stroke-width="1.7"/>
<line x1="216" y1="277.3" x2="217.8" y2="277.3" stroke="#111" stroke-width="1.7"/>
<text x="220.3" y="279.9" font-size="9.1" text-anchor="start" fill="#111" font-family='"Liberation Sans", sans-serif'  stroke="#111" stroke-width="0.22">Cu</text>
<line x1="50.8" y1="369.3" x2="245.9" y2="369.3" stroke="#222" stroke-width="1" stroke-dasharray="4.2,3.2"/>
<path d="M50.8,331.3 C67.04,331.3 173.31,331.22 190,331.3 C206.69,331.38 193.03,331.69 193.9,332 C194.78,332.31 196.81,333.07 197.5,334 C198.19,334.93 199.4,337.55 199.8,340 C200.2,342.45 200.72,351.58 200.9,355 C201.08,358.42 201.22,365.8 201.3,369.3 C201.38,372.8 201.52,381.42 201.6,385 C201.68,388.58 201.9,397.49 202,400 C202.1,402.51 202.29,405.61 202.5,406.5 C202.71,407.39 198.73,407.45 203.8,407.6 C208.88,407.75 241.08,407.78 246,407.8" fill="none" stroke="#4faae8" stroke-width="1.4" stroke-linejoin="round" />
<path d="M50.8,331.6 C59.46,331.6 115.89,331.5 125,331.6 C134.11,331.71 128.08,332.16 128.9,332.5 C129.72,332.84 131.39,333.62 132,334.5 C132.61,335.38 133.73,337.61 134.1,340 C134.47,342.39 135.01,351.58 135.2,355 C135.39,358.42 135.59,365.8 135.7,369.3 C135.8,372.8 136.01,381.42 136.1,385 C136.19,388.58 136.4,397.49 136.5,400 C136.6,402.51 136.79,405.61 137,406.5 C137.21,407.39 125.58,407.45 138.3,407.6 C151.02,407.75 233.44,407.78 246,407.8" fill="none" stroke="#1f4f80" stroke-width="1.4" stroke-linejoin="round" />
<path d="M50.8,331.9 C53.04,331.9 67.18,331.86 70,331.9 C72.82,331.94 73.95,332.01 75,332.2 C76.05,332.39 78.18,333 79,333.5 C79.82,334 81.44,335.51 82,336.5 C82.56,337.49 83.5,339.84 83.8,342 C84.1,344.16 84.45,351.81 84.6,355 C84.75,358.19 84.98,365.8 85.1,369.3 C85.22,372.8 85.48,381.42 85.6,385 C85.72,388.58 85.97,397.49 86.1,400 C86.23,402.51 86.45,405.61 86.7,406.5 C86.95,407.39 83.15,407.45 88.2,407.6 C93.25,407.75 125.12,407.78 130,407.8" fill="none" stroke="#141414" stroke-width="1.4" stroke-linejoin="round" />
<circle cx="85.1" cy="369.3" r="2.5" fill="#b4cce6" stroke="#1e3a66" stroke-width="0.95"/>
<circle cx="135.7" cy="369.3" r="2.5" fill="#b4cce6" stroke="#1e3a66" stroke-width="0.95"/>
<circle cx="201.3" cy="369.3" r="2.5" fill="#b4cce6" stroke="#1e3a66" stroke-width="0.95"/>
<text x="88.8" y="366.2" font-size="7" text-anchor="start" fill="#333" font-family='"Liberation Sans", sans-serif'  stroke="#333" stroke-width="0.22">Front positions</text>
<text transform="translate(92.7,387.8) rotate(90)" x="0" y="3.5" font-size="10" text-anchor="middle" fill="#333" font-family='"Liberation Sans", sans-serif' stroke="#333" stroke-width="0.22"><tspan font-family='"Liberation Serif", serif' font-style="italic">t</tspan> = 8 s</text>
<text transform="translate(141.5,388) rotate(90)" x="0" y="3.5" font-size="10" text-anchor="middle" fill="#244e7c" font-family='"Liberation Sans", sans-serif' stroke="#244e7c" stroke-width="0.22"><tspan font-family='"Liberation Serif", serif' font-style="italic">t</tspan> = 16 s</text>
<text transform="translate(208.4,388) rotate(90)" x="0" y="3.5" font-size="10" text-anchor="middle" fill="#64b0ea" font-family='"Liberation Sans", sans-serif' stroke="#64b0ea" stroke-width="0.22"><tspan font-family='"Liberation Serif", serif' font-style="italic">t</tspan> = 24 s</text>
<text x="54.8" y="403.4" font-size="9.5" fill="#444" font-family='"Liberation Sans", sans-serif' stroke="#444" stroke-width="0.22"><tspan font-family='"Liberation Serif", serif' font-style="italic">&#952;</tspan><tspan font-family='"Liberation Serif", serif' font-size="6.08" font-weight="bold" dy="1.8">FP</tspan><tspan dy="-1.8"> = 0</tspan></text>
<text transform="translate(25.0,283.2) rotate(-90)" x="0" y="0" font-size="11.5" text-anchor="middle" fill="#1a1a1a" font-family='"Liberation Serif", serif' stroke="#1a1a1a" stroke-width="0.22"><tspan font-style="italic" font-size="12.5">T</tspan> (&#176;C)</text>
<text transform="translate(25.6,367.6) rotate(-90)" x="0" y="0" font-size="13" text-anchor="middle" fill="#1a1a1a" font-family='"Liberation Serif", serif' font-style="italic" stroke="#1a1a1a" stroke-width="0.22">&#945;</text>
<text x="145.3" y="434.8" font-size="11.8" text-anchor="middle" fill="#1a1a1a" font-family='"Liberation Sans", sans-serif' stroke="#1a1a1a" stroke-width="0.22"><tspan font-family='"Liberation Serif", serif' font-style="italic" font-size="13.4">x</tspan> (mm)</text>
<text x="268.6" y="235.5" font-size="11.8" text-anchor="start" fill="#222" font-family='"Liberation Sans", sans-serif'  stroke="#222" stroke-width="0.22">(e)</text>
<rect x="322.7" y="245.4" width="194.7" height="77.3" fill="none" stroke="#111" stroke-width="1.5"/>
<rect x="322.7" y="330.5" width="194.7" height="77.5" fill="none" stroke="#111" stroke-width="1.5"/>
<line x1="355.15" y1="322.7" x2="355.15" y2="319.7" stroke="#111" stroke-width="1"/>
<line x1="355.15" y1="408" x2="355.15" y2="405" stroke="#111" stroke-width="1"/>
<line x1="387.6" y1="322.7" x2="387.6" y2="319.7" stroke="#111" stroke-width="1"/>
<line x1="387.6" y1="408" x2="387.6" y2="405" stroke="#111" stroke-width="1"/>
<line x1="420.05" y1="322.7" x2="420.05" y2="319.7" stroke="#111" stroke-width="1"/>
<line x1="420.05" y1="408" x2="420.05" y2="405" stroke="#111" stroke-width="1"/>
<line x1="452.5" y1="322.7" x2="452.5" y2="319.7" stroke="#111" stroke-width="1"/>
<line x1="452.5" y1="408" x2="452.5" y2="405" stroke="#111" stroke-width="1"/>
<line x1="484.95" y1="322.7" x2="484.95" y2="319.7" stroke="#111" stroke-width="1"/>
<line x1="484.95" y1="408" x2="484.95" y2="405" stroke="#111" stroke-width="1"/>
<line x1="322.7" y1="312.62" x2="325.7" y2="312.62" stroke="#111" stroke-width="1"/>
<line x1="322.7" y1="295.81" x2="325.7" y2="295.81" stroke="#111" stroke-width="1"/>
<line x1="322.7" y1="279.01" x2="325.7" y2="279.01" stroke="#111" stroke-width="1"/>
<line x1="322.7" y1="262.2" x2="325.7" y2="262.2" stroke="#111" stroke-width="1"/>
<line x1="322.7" y1="392.5" x2="325.7" y2="392.5" stroke="#111" stroke-width="1"/>
<line x1="322.7" y1="377" x2="325.7" y2="377" stroke="#111" stroke-width="1"/>
<line x1="322.7" y1="361.5" x2="325.7" y2="361.5" stroke="#111" stroke-width="1"/>
<line x1="322.7" y1="346" x2="325.7" y2="346" stroke="#111" stroke-width="1"/>
<text x="318.9" y="316.52" font-size="11" text-anchor="end" fill="#1a1a1a" font-family='"Liberation Sans", sans-serif'  stroke="#1a1a1a" stroke-width="0.22">50</text>
<text x="318.9" y="299.71" font-size="11" text-anchor="end" fill="#1a1a1a" font-family='"Liberation Sans", sans-serif'  stroke="#1a1a1a" stroke-width="0.22">100</text>
<text x="318.9" y="282.91" font-size="11" text-anchor="end" fill="#1a1a1a" font-family='"Liberation Sans", sans-serif'  stroke="#1a1a1a" stroke-width="0.22">150</text>
<text x="318.9" y="266.1" font-size="11" text-anchor="end" fill="#1a1a1a" font-family='"Liberation Sans", sans-serif'  stroke="#1a1a1a" stroke-width="0.22">200</text>
<text x="318.9" y="249.3" font-size="11" text-anchor="end" fill="#1a1a1a" font-family='"Liberation Sans", sans-serif'  stroke="#1a1a1a" stroke-width="0.22">250</text>
<text x="318.9" y="411.9" font-size="11" text-anchor="end" fill="#1a1a1a" font-family='"Liberation Sans", sans-serif'  stroke="#1a1a1a" stroke-width="0.22">0.0</text>
<text x="318.9" y="396.4" font-size="11" text-anchor="end" fill="#1a1a1a" font-family='"Liberation Sans", sans-serif'  stroke="#1a1a1a" stroke-width="0.22">0.2</text>
<text x="318.9" y="380.9" font-size="11" text-anchor="end" fill="#1a1a1a" font-family='"Liberation Sans", sans-serif'  stroke="#1a1a1a" stroke-width="0.22">0.4</text>
<text x="318.9" y="365.4" font-size="11" text-anchor="end" fill="#1a1a1a" font-family='"Liberation Sans", sans-serif'  stroke="#1a1a1a" stroke-width="0.22">0.6</text>
<text x="318.9" y="349.9" font-size="11" text-anchor="end" fill="#1a1a1a" font-family='"Liberation Sans", sans-serif'  stroke="#1a1a1a" stroke-width="0.22">0.8</text>
<text x="318.9" y="334.4" font-size="11" text-anchor="end" fill="#1a1a1a" font-family='"Liberation Sans", sans-serif'  stroke="#1a1a1a" stroke-width="0.22">1.0</text>
<text x="322.7" y="421.4" font-size="11" text-anchor="middle" fill="#1a1a1a" font-family='"Liberation Sans", sans-serif'  stroke="#1a1a1a" stroke-width="0.22">2</text>
<text x="387.6" y="421.4" font-size="11" text-anchor="middle" fill="#1a1a1a" font-family='"Liberation Sans", sans-serif'  stroke="#1a1a1a" stroke-width="0.22">4</text>
<text x="452.5" y="421.4" font-size="11" text-anchor="middle" fill="#1a1a1a" font-family='"Liberation Sans", sans-serif'  stroke="#1a1a1a" stroke-width="0.22">6</text>
<text x="517.4" y="421.4" font-size="11" text-anchor="middle" fill="#1a1a1a" font-family='"Liberation Sans", sans-serif'  stroke="#1a1a1a" stroke-width="0.22">8</text>
<line x1="420.05" y1="245.4" x2="420.05" y2="322.7" stroke="#f4b4b4" stroke-width="1.2"/>
<line x1="420.05" y1="330.5" x2="420.05" y2="408" stroke="#f4b4b4" stroke-width="1.2"/>
<line x1="322.7" y1="252.5" x2="517.4" y2="252.5" stroke="#222" stroke-width="1" stroke-dasharray="4.2,3.2"/>
<path d="M322.7,270.3 C324.72,270.57 335.65,272.13 340,272.6 C344.35,273.07 355.33,274.14 360,274.3 C364.67,274.46 375.33,274.2 380,274 C384.67,273.8 395.36,272.96 400,272.6 C404.64,272.24 417.49,271.1 419.8,270.9" fill="none" stroke="#e8646c" stroke-width="1.3" stroke-linejoin="round" />
<path d="M419.8,270.9 L482,253.2" fill="none" stroke="#e8646c" stroke-width="1.3" stroke-linejoin="round" />
<path d="M482,253.2 C482.93,252.92 487.9,251.27 490,250.8 C492.1,250.33 497.9,249.48 500,249.2 C502.1,248.92 506.02,248.53 508,248.4 C509.98,248.27 515.95,248.13 517,248.1" fill="none" stroke="#e8646c" stroke-width="1.3" stroke-linejoin="round" />
<path d="M322.7,269.3 C325.88,269.85 343.31,272.73 350,274 C356.69,275.27 374.17,279.21 380,280.2 C385.83,281.19 395.33,282.1 400,282.5 C404.67,282.9 415.92,283.38 420,283.6 C424.08,283.82 431.5,283.99 435,284.4 C438.5,284.81 446.5,286.27 450,287.1 C453.5,287.93 461.5,290.17 465,291.5 C468.5,292.83 476.5,296.87 480,298.5 C483.5,300.13 491.85,304.2 495,305.5 C498.15,306.8 504.43,308.88 507,309.6 C509.57,310.32 515.83,311.45 517,311.7" fill="none" stroke="#eccaaa" stroke-width="1.3" stroke-linejoin="round" />
<path d="M322.7,267.3 C325.88,268.01 343.31,271.89 350,273.4 C356.69,274.9 374.17,278.69 380,280.2 C385.83,281.7 396.16,285.16 400,286.3 C403.84,287.44 410.61,289.38 412.9,290 C415.19,290.62 417.02,290.96 419.6,291.6 C422.18,292.24 431.45,294.61 435,295.5 C438.55,296.39 446.5,298.32 450,299.2 C453.5,300.07 461.5,302.02 465,303 C468.5,303.98 476.38,306.47 480,307.6 C483.62,308.73 491.68,311.69 496,312.7 C500.32,313.71 514.55,315.88 517,316.3" fill="none" stroke="#4faae8" stroke-width="1.3" stroke-linejoin="round" />
<path d="M322.7,265.2 L350,272.2 L380,280.6 L400,287.8 L412.9,294 L419.3,297.6" fill="none" stroke="#1f4f80" stroke-width="1.4" stroke-linejoin="round" />
<path d="M419.3,297.6 C421.13,298 431.42,300.21 435,301 C438.58,301.79 446.5,303.52 450,304.4 C453.5,305.27 461.5,307.57 465,308.5 C468.5,309.43 475.92,311.47 480,312.4 C484.08,313.33 495.68,315.78 500,316.5 C504.32,317.22 515.02,318.36 517,318.6" fill="none" stroke="#1f4f80" stroke-width="1.4" stroke-linejoin="round" />
<path d="M322.7,261.2 C325.3,261.82 340.36,265.32 345,266.5 C349.64,267.68 359.58,270.36 362.5,271.3 C365.42,272.25 368.12,273.61 370,274.6 C371.88,275.59 376.42,277.82 378.6,279.8 C380.78,281.78 386.11,288.75 388.7,291.6 C391.29,294.45 398.21,301.68 400.8,304.2 C403.39,306.72 408.92,311.64 410.9,313.2 C412.88,314.76 416.56,317 417.8,317.6 C419.04,318.2 418.91,318.17 421.5,318.3 C424.09,318.43 433.18,318.56 440,318.7 C446.82,318.84 471.02,319.35 480,319.5 C488.98,319.65 512.68,319.94 517,320" fill="none" stroke="#141414" stroke-width="1.4" stroke-linejoin="round" />
<text x="372.8" y="261.6" font-size="11.5" fill="#333" font-family='"Liberation Serif", serif' font-style="italic" stroke="#333" stroke-width="0.22">T</text>
<text x="379.2" y="263.4" font-size="7.5" fill="#333" font-family='"Liberation Serif", serif' stroke="#333" stroke-width="0.22">f</text>
<text x="328.8" y="319.8" font-size="10" fill="#444" font-family='"Liberation Sans", sans-serif' stroke="#444" stroke-width="0.22"><tspan font-family='"Liberation Serif", serif' font-style="italic">&#952;</tspan><tspan font-family='"Liberation Serif", serif' font-size="6.4" font-weight="bold" dy="1.8">FP</tspan><tspan dy="-1.8"> = 90&#186;</tspan></text>
<text transform="translate(392.2,308.2) rotate(50)" x="0" y="3.67" font-size="10.5" text-anchor="middle" fill="#111" font-family='"Liberation Sans", sans-serif' stroke="#111" stroke-width="0.22"><tspan font-family='"Liberation Serif", serif' font-style="italic">t</tspan> = 4 s</text>
<text transform="translate(462.5,264.4) rotate(-11)" x="0" y="3.67" font-size="10.5" text-anchor="middle" fill="#e46c74" font-family='"Liberation Sans", sans-serif' stroke="#e46c74" stroke-width="0.22"><tspan font-family='"Liberation Serif", serif' font-style="italic">t</tspan> = 14 s</text>
<text transform="translate(474.5,290) rotate(16)" x="0" y="3.67" font-size="10.5" text-anchor="middle" fill="#ecd0b6" font-family='"Liberation Sans", sans-serif' stroke="#ecd0b6" stroke-width="0.22"><tspan font-family='"Liberation Serif", serif' font-style="italic">t</tspan> = 12 s</text>
<text transform="translate(458.5,298) rotate(15)" x="0" y="3.67" font-size="10.5" text-anchor="middle" fill="#4aa2e2" font-family='"Liberation Sans", sans-serif' stroke="#4aa2e2" stroke-width="0.22"><tspan font-family='"Liberation Serif", serif' font-style="italic">t</tspan> = 10 s</text>
<text transform="translate(443.7,312.7) rotate(15)" x="0" y="4.02" font-size="11.5" text-anchor="middle" fill="#1f4a78" font-family='"Liberation Sans", sans-serif' stroke="#1f4a78" stroke-width="0.22"><tspan font-family='"Liberation Serif", serif' font-style="italic">t</tspan> = 8 s</text>
<line x1="322.7" y1="369.3" x2="517.4" y2="369.3" stroke="#222" stroke-width="1" stroke-dasharray="4.2,3.2"/>
<path d="M322.7,331.2 C327.05,331.34 353.31,332.05 360,332.4 C366.69,332.75 375.33,333.8 380,334.2 C384.67,334.6 396.03,335.38 400,335.8 C403.97,336.22 411.73,337.51 414,337.8 C416.27,338.09 418.68,338.28 419.5,338.3 C420.32,338.32 418.61,338.37 421,338 C423.39,337.63 434.28,335.72 440,335.1 C445.72,334.48 461.02,333.11 470,332.7 C478.98,332.29 511.52,331.73 517,331.6" fill="none" stroke="#e8646c" stroke-width="1.3" stroke-linejoin="round" />
<path d="M322.7,331.2 C325.88,331.27 344.48,331.57 350,331.8 C355.52,332.03 365.92,332.65 370,333.2 C374.08,333.75 381.41,335.29 385,336.5 C388.59,337.71 397.31,341.84 400.8,343.6 C404.29,345.36 412.66,350.2 414.9,351.6 C417.14,353 418.24,354.36 420,355.6 C421.76,356.84 427.5,360.6 430,362.2 C432.5,363.8 439.07,367.28 441.4,369.3 C443.73,371.32 447.83,376.9 450,379.5 C452.17,382.1 457.67,389.24 460,391.6 C462.33,393.96 467.08,398.16 470,399.7 C472.92,401.24 481.5,403.97 485,404.8 C488.5,405.63 496.27,406.49 500,406.8 C503.73,407.12 515.02,407.42 517,407.5" fill="none" stroke="#eccaaa" stroke-width="1.3" stroke-linejoin="round" />
<path d="M322.7,331.2 C328.22,331.29 362.15,331.79 370,332 C377.85,332.21 386.41,332.48 390,333 C393.59,333.52 398.84,334.84 400.8,336.5 C402.76,338.16 405.46,343.37 406.8,347.2 C408.14,351.03 411.11,365.88 412.3,369.3 C413.49,372.72 415.99,375.08 417,376.5 C418.01,377.92 420.07,380.39 421,381.5 C421.93,382.61 423.37,384.72 425,386 C426.63,387.28 432.67,390.95 435,392.5 C437.33,394.05 442.62,397.96 445,399.3 C447.38,400.64 452.77,403.12 455.4,404 C458.02,404.88 463.46,406.38 467.5,406.8 C471.54,407.22 484.23,407.48 490,407.6 C495.77,407.72 513.85,407.78 517,407.8" fill="none" stroke="#4faae8" stroke-width="1.3" stroke-linejoin="round" />
<path d="M322.7,331.4 C327.05,331.47 353.31,331.81 360,332 C366.69,332.19 376.3,332.48 380,333 C383.7,333.52 389.75,335.08 391.7,336.5 C393.65,337.92 395.39,341.37 396.7,345.2 C398.01,349.03 401.72,364.59 402.9,369.3 C404.08,374.01 405.87,382.52 406.8,385.6 C407.73,388.68 409.71,393.82 410.9,395.7 C412.09,397.58 415.36,400.64 417,401.7 C418.64,402.76 422.32,404.2 425,404.8 C427.68,405.4 435.92,406.47 440,406.8 C444.08,407.13 451.02,407.48 460,407.6 C468.98,407.72 510.35,407.78 517,407.8" fill="none" stroke="#1f4f80" stroke-width="1.4" stroke-linejoin="round" />
<path d="M322.7,331.5 C324.72,331.69 336.23,332.42 340,333.1 C343.77,333.78 352.08,335.87 355,337.3 C357.92,338.74 363.02,343.28 365,345.4 C366.98,347.52 370.53,352.71 372,355.5 C373.47,358.29 376.43,366.44 377.6,369.3 C378.77,372.16 380.9,377.18 382,380 C383.1,382.82 385.48,390.75 387,393.5 C388.52,396.25 392.9,402.05 395,403.6 C397.1,405.15 402.08,406.33 405,406.8 C407.92,407.27 406.93,407.48 420,407.6 C433.07,407.72 505.68,407.78 517,407.8" fill="none" stroke="#141414" stroke-width="1.4" stroke-linejoin="round" />
<circle cx="377.6" cy="369.3" r="2.5" fill="#5e80b4" stroke="#1e3a66" stroke-width="0.95"/>
<circle cx="402.9" cy="369.3" r="2.5" fill="#b8d0ea" stroke="#1e3a66" stroke-width="0.95"/>
<circle cx="412.3" cy="369.3" r="2.5" fill="#d6e4f4" stroke="#1e3a66" stroke-width="0.95"/>
<circle cx="441.4" cy="369.3" r="2.5" fill="#d6e4f4" stroke="#1e3a66" stroke-width="0.95"/>
<text x="326" y="367.4" font-size="7" text-anchor="start" fill="#333" font-family='"Liberation Sans", sans-serif'  stroke="#333" stroke-width="0.22">Front positions</text>
<text x="328.2" y="404" font-size="10" fill="#444" font-family='"Liberation Sans", sans-serif' stroke="#444" stroke-width="0.22"><tspan font-family='"Liberation Serif", serif' font-style="italic">&#952;</tspan><tspan font-family='"Liberation Serif", serif' font-size="6.4" font-weight="bold" dy="1.8">FP</tspan><tspan dy="-1.8"> = 90&#186;</tspan></text>
<text transform="translate(375,388.6) rotate(78)" x="0" y="3.67" font-size="10.5" text-anchor="middle" fill="#111" font-family='"Liberation Sans", sans-serif' stroke="#111" stroke-width="0.22"><tspan font-family='"Liberation Serif", serif' font-style="italic">t</tspan> = 4 s</text>
<text transform="translate(400.8,387.6) rotate(63)" x="0" y="3.67" font-size="10.5" text-anchor="middle" fill="#1f4a78" font-family='"Liberation Sans", sans-serif' stroke="#1f4a78" stroke-width="0.22"><tspan font-family='"Liberation Serif", serif' font-style="italic">t</tspan> = 8 s</text>
<text transform="translate(440.3,387.6) rotate(40)" x="0" y="3.67" font-size="10.5" text-anchor="middle" fill="#4aa2e2" font-family='"Liberation Sans", sans-serif' stroke="#4aa2e2" stroke-width="0.22"><tspan font-family='"Liberation Serif", serif' font-style="italic">t</tspan> = 10 s</text>
<text transform="translate(465,384) rotate(43)" x="0" y="3.67" font-size="10.5" text-anchor="middle" fill="#eed6c0" font-family='"Liberation Sans", sans-serif' stroke="#eed6c0" stroke-width="0.22"><tspan font-family='"Liberation Serif", serif' font-style="italic">t</tspan> = 12 s</text>
<text transform="translate(455,342.5) rotate(-2)" x="0" y="3.67" font-size="10.5" text-anchor="middle" fill="#e0626a" font-family='"Liberation Sans", sans-serif' stroke="#e0626a" stroke-width="0.22"><tspan font-family='"Liberation Serif", serif' font-style="italic">t</tspan> = 14 s</text>
<text transform="translate(297.2,283.2) rotate(-90)" x="0" y="0" font-size="11.5" text-anchor="middle" fill="#1a1a1a" font-family='"Liberation Serif", serif' stroke="#1a1a1a" stroke-width="0.22"><tspan font-style="italic" font-size="12.5">T</tspan> (&#176;C)</text>
<text transform="translate(297.8,367.8) rotate(-90)" x="0" y="0" font-size="13" text-anchor="middle" fill="#1a1a1a" font-family='"Liberation Serif", serif' font-style="italic" stroke="#1a1a1a" stroke-width="0.22">&#945;</text>
<text x="419.5" y="434.8" font-size="11.8" text-anchor="middle" fill="#1a1a1a" font-family='"Liberation Sans", sans-serif' stroke="#1a1a1a" stroke-width="0.22"><tspan font-family='"Liberation Serif", serif' font-style="italic" font-size="13.4">y</tspan> (mm)</text>
</svg>
</body></html>
